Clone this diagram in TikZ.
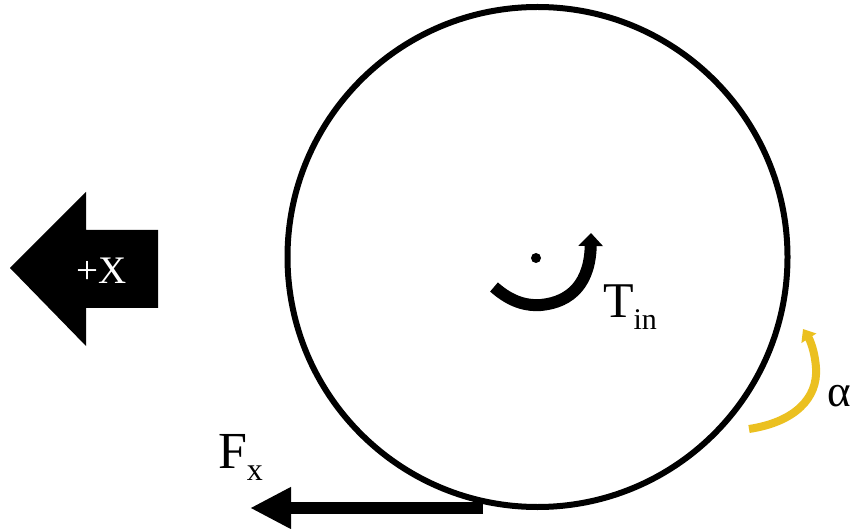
\documentclass[tikz,border=0pt]{standalone}
\usepackage{fontspec}
\setmainfont{Liberation Serif}
\usetikzlibrary{arrows.meta}
\definecolor{gold}{HTML}{EBC020}
\tikzset{
  lbl/.style={anchor=base west, inner sep=0pt, outer sep=0pt},
}
\begin{document}
\begin{tikzpicture}[x=1pt,y=-1pt]
\useasboundingbox (0,0) rectangle (854,529);
% wheel
\node[draw=black, line width=6pt, circle, minimum size=500pt, inner sep=0pt] (wheel) at (537.5,257) {};
\node[fill=black, circle, minimum size=10pt, inner sep=0pt] (hub) at (536,258) {};
% +X arrow
\fill[black] (10,268) -- (86,192) -- (86,230) -- (158,230) -- (158,308) -- (86,308) -- (86,346) -- cycle;
\node[text=white, font=\fontsize{39}{39}\selectfont, inner sep=0pt] (xdir) at (102,271) {+X};
% torque arrow
\coordinate (tA) at (494,287);
\coordinate (tB) at (591,233);
\draw[line width=12pt, -{Triangle[length=13pt,width=24pt]}]
  (tA) .. controls (512,303) and (528,306) .. (541,305) .. controls (572,302) and (590,282) .. (tB);
\node[lbl] (tin) at (603,318) {\fontsize{50}{50}\selectfont T\raisebox{-12pt}{\fontsize{30}{30}\selectfont in}};
% alpha arrow
\coordinate (aA) at (749,429);
\coordinate (aB) at (803,329);
\draw[gold, line width=8pt, -{Triangle[length=11pt,width=17pt]}]
  (aA) .. controls (795,422) and (818,398) .. (816,368) .. controls (815,352) and (810,340) .. (aB);
\node[lbl] (alpha) at (827,406) {\fontsize{45}{45}\selectfont α};
% Fx arrow
\coordinate (fA) at (483,508);
\coordinate (fB) at (250,508);
\draw[line width=12pt, -{Triangle[length=41pt,width=39pt]}] (fA) -- (fB);
\node[lbl] (fx) at (218,468) {\fontsize{52}{52}\selectfont F\raisebox{-12pt}{\fontsize{32}{32}\selectfont x}};
\end{tikzpicture}
\end{document}
